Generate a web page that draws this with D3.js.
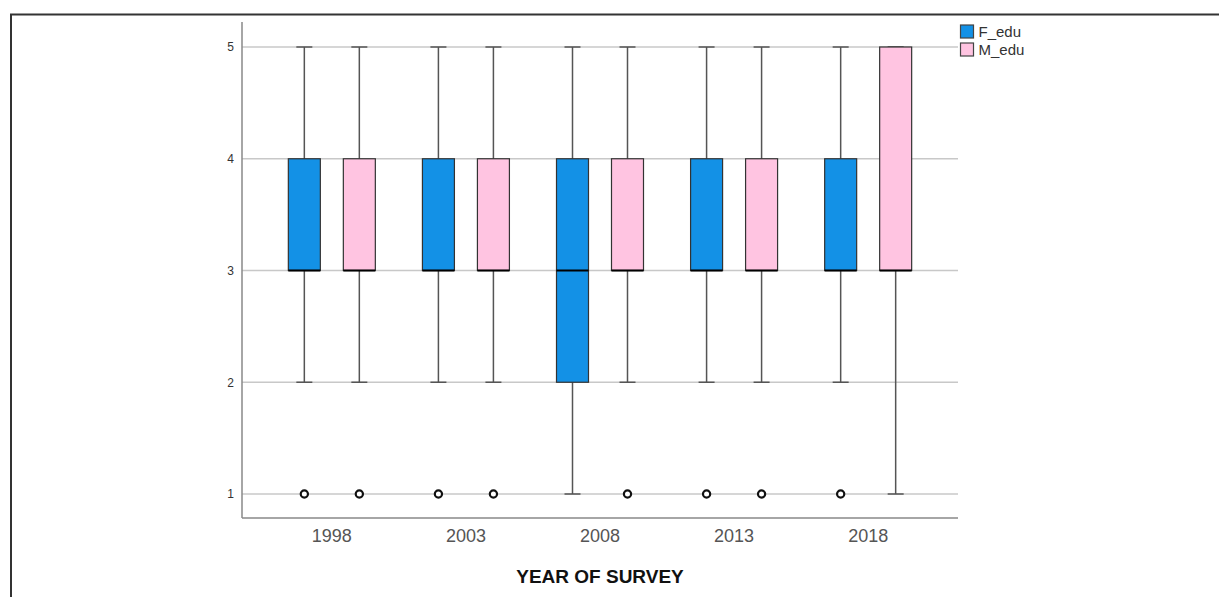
<!DOCTYPE html>
<html>
<head>
<meta charset="utf-8">
<script src="https://cdn.jsdelivr.net/npm/d3@7"></script>
<style>
  body { margin: 0; background: #fff; }
  svg { display: block; font-family: Arial, "Liberation Sans", sans-serif; }
</style>
</head>
<body>
<svg id="chart" width="1219" height="597"></svg>
<script>
var years = ["1998", "2003", "2008", "2013", "2018"]
var series = ["F_edu", "M_edu"]
var colors = ["#1391e6", "#ffc4e1"]
var yTicks = [1, 2, 3, 4, 5]

// five-number summaries per year: [min, q1, median, q3, max]
var fEdu = [[2, 3, 3, 4, 5], [2, 3, 3, 4, 5], [1, 2, 3, 4, 5], [2, 3, 3, 4, 5], [2, 3, 3, 4, 5]]
var mEdu = [[2, 3, 3, 4, 5], [2, 3, 3, 4, 5], [2, 3, 3, 4, 5], [2, 3, 3, 4, 5], [1, 3, 3, 5, 5]]
var fOutliers = [[1], [1], [], [1], [1]]
var mOutliers = [[1], [1], [1], [1], []]

var svg = d3.select("#chart")

// outer frame
svg.append("path")
    .attr("d", "M11,597 V14.5 H1219")
    .attr("fill", "none").attr("stroke", "#333").attr("stroke-width", 2)

var plotL = 242, plotR = 958, plotT = 22, plotB = 518

var x = d3.scaleBand().domain(years).range([plotL, plotR]).paddingOuter(0.17)
var y = d3.scaleLinear().domain([1, 5]).range([494, 47])
var off = d3.scaleOrdinal().domain(series).range([-27.5, 27.5])

// grid
svg.selectAll(".grid").data(yTicks).enter().append("line")
    .attr("x1", plotL).attr("x2", plotR)
    .attr("y1", d => y(d)).attr("y2", d => y(d))
    .attr("stroke", "#c8c8c8").attr("stroke-width", 1.5)

// axes
var yAxis = svg.append("g").attr("transform", "translate(" + plotL + ",0)")
    .call(d3.axisLeft(y).tickValues(yTicks).tickSize(0).tickPadding(8).tickFormat(d3.format("d")))
yAxis.select(".domain").remove()
yAxis.selectAll("text").attr("font-size", 12).attr("fill", "#333")
svg.append("line").attr("x1", plotL).attr("x2", plotL).attr("y1", plotT).attr("y2", plotB)
    .attr("stroke", "#888").attr("stroke-width", 1.5)

var xAxis = svg.append("g").attr("transform", "translate(0," + plotB + ")")
    .call(d3.axisBottom(x).tickSize(0).tickPadding(11))
xAxis.select(".domain").remove()
xAxis.selectAll("text").attr("font-size", 18).attr("fill", "#555")
svg.append("line").attr("x1", plotL).attr("x2", plotR).attr("y1", plotB).attr("y2", plotB)
    .attr("stroke", "#888").attr("stroke-width", 1.5)

svg.append("text").attr("x", 600).attr("y", 583).attr("text-anchor", "middle")
    .attr("font-size", 19).attr("font-weight", "bold").attr("fill", "#111")
    .text("YEAR OF SURVEY")

// boxes
var boxW = 32, capW = 16
var rows = []
years.forEach(function (yr, i) {
    rows.push({ year: yr, s: "F_edu", c: colors[0], v: fEdu[i], out: fOutliers[i] })
    rows.push({ year: yr, s: "M_edu", c: colors[1], v: mEdu[i], out: mOutliers[i] })
})

var g = svg.selectAll(".box").data(rows).enter().append("g")
    .attr("transform", d => "translate(" + (x(d.year) + x.bandwidth() / 2 + off(d.s)) + ",0)")

g.append("line").attr("x1", 0).attr("x2", 0)
    .attr("y1", d => y(d.v[4])).attr("y2", d => y(d.v[0]))
    .attr("stroke", "#555").attr("stroke-width", 1.5)
g.append("line").attr("x1", -capW / 2).attr("x2", capW / 2)
    .attr("y1", d => y(d.v[4])).attr("y2", d => y(d.v[4]))
    .attr("stroke", "#555").attr("stroke-width", 1.5)
g.append("line").attr("x1", -capW / 2).attr("x2", capW / 2)
    .attr("y1", d => y(d.v[0])).attr("y2", d => y(d.v[0]))
    .attr("stroke", "#555").attr("stroke-width", 1.5)
g.append("rect").attr("x", -boxW / 2).attr("width", boxW)
    .attr("y", d => y(d.v[3])).attr("height", d => y(d.v[1]) - y(d.v[3]))
    .attr("fill", d => d.c).attr("stroke", "#333").attr("stroke-width", 1.2)
g.append("line").attr("x1", -boxW / 2).attr("x2", boxW / 2)
    .attr("y1", d => y(d.v[2])).attr("y2", d => y(d.v[2]))
    .attr("stroke", "#000").attr("stroke-width", 2)
g.selectAll("circle").data(d => d.out).enter().append("circle")
    .attr("cx", 0).attr("cy", d => y(d)).attr("r", 3.6)
    .attr("fill", "#fff").attr("stroke", "#111").attr("stroke-width", 2.2)

// legend
var lg = svg.selectAll(".leg").data(series).enter().append("g")
    .attr("transform", (d, i) => "translate(960.5," + (25 + i * 18) + ")")
lg.append("rect").attr("width", 13).attr("height", 13)
    .attr("fill", (d, i) => colors[i]).attr("stroke", "#444").attr("stroke-width", 1.2)
lg.append("text").attr("x", 18).attr("y", 11.5).attr("font-size", 15).attr("fill", "#333").text(d => d)
</script>
</body>
</html>
